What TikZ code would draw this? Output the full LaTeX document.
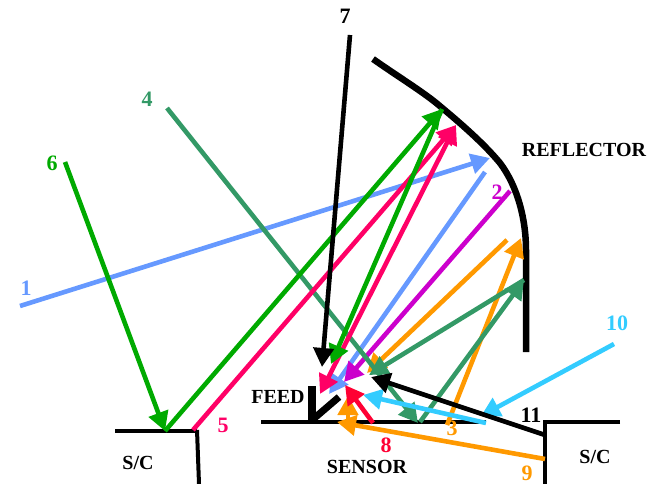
\documentclass[tikz,border=0pt]{standalone}
\usepackage{fontspec}
\setmainfont{Liberation Serif}
\usetikzlibrary{arrows.meta}
\definecolor{cblue}{HTML}{6699FF}
\definecolor{cmag}{HTML}{CC00CC}
\definecolor{cora}{HTML}{FF9900}
\definecolor{cteal}{HTML}{339966}
\definecolor{ccrim}{HTML}{FF0066}
\definecolor{cgreen}{HTML}{00AA00}
\definecolor{ccyan}{HTML}{33CCFF}
\definecolor{cred}{HTML}{FF0033}
\tikzset{
  ray/.style={line width=4.6pt,line cap=butt,-{Triangle[length=19pt,width=20pt]}},
  wall/.style={line width=4pt,black},
  num/.style={font=\bfseries\fontsize{22}{22}\selectfont,inner sep=0pt},
  caplabel/.style={font=\bfseries\fontsize{20}{20}\selectfont,inner sep=0pt}
}
\begin{document}
\begin{tikzpicture}[x=1pt,y=-1pt]
\useasboundingbox (0,0) rectangle (656,484);
% named points
\coordinate (b1) at (20,306); \coordinate (b1t) at (490,158);
\coordinate (b2) at (485,172); \coordinate (b2t) at (329,394);
\coordinate (m1) at (510,191); \coordinate (m1t) at (344,382);
\coordinate (o1) at (447,425); \coordinate (o1t) at (521,238);
\coordinate (o2) at (507,240); \coordinate (o2t) at (367,373);
\coordinate (t1) at (167,108); \coordinate (t1t) at (418,423);
\coordinate (t2) at (420,422); \coordinate (t2t) at (524,280);
\coordinate (t3t) at (369,375);
\coordinate (c1) at (193,430); \coordinate (c1t) at (456,125);
\coordinate (c2t) at (320,394);
\coordinate (g1) at (65,162); \coordinate (g1t) at (165,431);
\coordinate (g2t) at (442,109); \coordinate (g3t) at (331,364);
\coordinate (k1) at (350,35); \coordinate (k1t) at (322,367);
\coordinate (r1) at (373,423); \coordinate (r1t) at (345,385);
\coordinate (o3) at (348,423); \coordinate (o3t) at (348,396);
\coordinate (o4) at (545,459); \coordinate (o4t) at (337,422);
\coordinate (y1) at (614,344); \coordinate (y1t) at (481,416);
\coordinate (y2) at (486,423); \coordinate (y2t) at (363,395);
\coordinate (k2) at (545,435); \coordinate (k2t) at (371,377);
% structure
\draw[wall] (115,431) -- (197,431);
\draw[wall] (197,430) -- (199,484);
\draw[wall] (261,422) -- (486,422);
\draw[wall] (620,422) -- (545,422) -- (545,484);
\draw[line width=8pt] (312,386) -- (312,423);
\draw[line width=7pt] (311,421) -- (339,397);
\draw[line width=6.5pt,line cap=butt] (373,59) .. controls (400,78) and (425,93) .. (441,107)
  .. controls (465,127) and (485,145) .. (500,163)
  .. controls (518,187) and (526,220) .. (526,250) -- (526,352);
% rays
\draw[ray,cblue] (b1) -- (b1t);
\draw[ray,cblue] (b2) -- (b2t);
\draw[ray,cmag] (m1) -- (m1t);
\draw[ray,cora] (o2) -- (o2t);
\draw[ray,cora] (o1) -- (o1t);
\draw[ray,cteal] (t1) -- (t1t);
\draw[ray,cteal] (t2) -- (t2t);
\draw[ray,cteal] (t2t) -- (t3t);
\draw[ray,ccrim] (c1) -- (c1t);
\draw[ray,ccrim,{Triangle[length=19pt,width=20pt]}-{Triangle[length=19pt,width=20pt]}] (c1t) -- (c2t);
\draw[ray,cgreen] (g1) -- (g1t);
\draw[ray,cgreen] (g1t) -- (g2t);
\draw[ray,cgreen] (g2t) -- (g3t);
\draw[ray,black] (k1) -- (k1t);
\draw[ray,cora] (o4) -- (o4t);
\draw[ray,cora] (o3) -- (o3t);
\draw[ray,cred] (r1) -- (r1t);
\draw[ray,ccyan] (y1) -- (y1t);
\draw[ray,ccyan] (y2) -- (y2t);
\draw[ray,black] (k2) -- (k2t);
% labels
\node[num,cblue] (n1) at (26,288) {1};
\node[num,cmag] (n2) at (497,192) {2};
\node[num,cora] (n3) at (452,428) {3};
\node[num,cteal] (n4) at (147,99) {4};
\node[num,ccrim] (n5) at (223,425) {5};
\node[num,cgreen] (n6) at (52,163) {6};
\node[num,black] (n7) at (345,16) {7};
\node[num,cred] (n8) at (386,445) {8};
\node[num,cora] (n9) at (527,473) {9};
\node[num,ccyan] (n10) at (617,323) {10};
\node[num,black] (n11) at (531,415) {11};
\node[caplabel] (refl) at (584,150) {REFLECTOR};
\node[caplabel] (feed) at (278,397) {FEED};
\node[caplabel] (sens) at (367,467) {SENSOR};
\node[caplabel] (sc1) at (138,463) {S/C};
\node[caplabel] (sc2) at (595,457) {S/C};
\end{tikzpicture}
\end{document}
